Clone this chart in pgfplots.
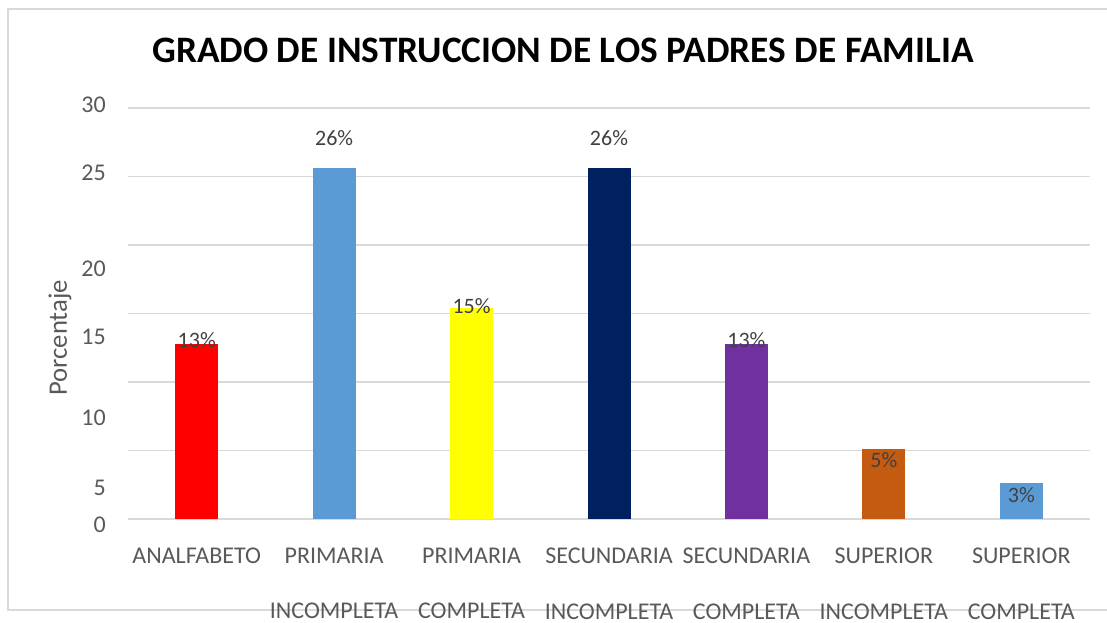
\documentclass[border=0pt]{standalone}
\usepackage{pgfplots}
\pgfplotsset{compat=1.18}
\usepackage{fontspec}
\setmainfont{Carlito}
\definecolor{txt}{HTML}{595959}
\definecolor{lbl}{HTML}{404040}
\definecolor{grd}{HTML}{D9D9D9}
\definecolor{cRed}{HTML}{FF0000}
\definecolor{cBlue}{HTML}{5B9BD5}
\definecolor{cYel}{HTML}{FFFF00}
\definecolor{cNavy}{HTML}{002060}
\definecolor{cPurp}{HTML}{7030A0}
\definecolor{cOra}{HTML}{C55A11}
\begin{document}
\begin{tikzpicture}[x=0.75pt,y=0.75pt]
\useasboundingbox (0,0) rectangle (1107,623);
\draw[grd, line width=1.2pt] (1107,614) -- (8,614) -- (8,13) -- (1107,13);
\node[font=\bfseries\fontsize{28}{32}\selectfont, text=black] at (563,573) {GRADO DE INSTRUCCION DE LOS PADRES DE FAMILIA};
\node[font=\fontsize{20}{24}\selectfont, text=txt, rotate=90] at (60,285) {Porcentaje};
\begin{axis}[
  at={(96pt,72.86pt)}, anchor=south west,
  scale only axis, width=721.5pt, height=318.5pt,
  xmin=-0.5, xmax=6.5, ymin=-0.5, ymax=30.5,
  axis line style={draw=none},
  xtick={0,1,2,3,4,5,6},
  xticklabels={ANALFABETO, PRIMARIA\\[20.5pt]INCOMPLETA, PRIMARIA\\[20.5pt]COMPLETA, SECUNDARIA\\[20.5pt]INCOMPLETA, SECUNDARIA\\[20.5pt]COMPLETA, SUPERIOR\\[20.5pt]INCOMPLETA, SUPERIOR\\[20.5pt]COMPLETA},
  xticklabel style={align=center, anchor=north, inner sep=0pt, yshift=-16.6pt, font=\fontsize{18}{21}\selectfont, text=txt},
  ytick={-0.44,2.3,7.4,13.3,18.3,25.3,30.2},
  yticklabels={0,5,10,15,20,25,30},
  yticklabel style={anchor=east, inner sep=0pt, xshift=-16.5pt, font=\fontsize{18}{21}\selectfont, text=txt},
  major tick length=0pt,
  extra y ticks={0,5,10,15,20,25,30},
  extra y tick labels={},
  extra y tick style={grid=major, major grid style={grd, line width=1.2pt}},
  /pgf/number format/assume math mode=true,
  clip=false,
]
\addplot[ybar, bar width=32.25pt, bar shift=0pt, fill=cRed, draw=none] coordinates {(0,12.8)};
\addplot[ybar, bar width=32.25pt, bar shift=0pt, fill=cBlue, draw=none] coordinates {(1,25.6)};
\addplot[ybar, bar width=32.25pt, bar shift=0pt, fill=cYel, draw=none] coordinates {(2,15.4)};
\addplot[ybar, bar width=32.25pt, bar shift=0pt, fill=cNavy, draw=none] coordinates {(3,25.6)};
\addplot[ybar, bar width=32.25pt, bar shift=0pt, fill=cPurp, draw=none] coordinates {(4,12.8)};
\addplot[ybar, bar width=32.25pt, bar shift=0pt, fill=cOra, draw=none] coordinates {(5,5.1)};
\addplot[ybar, bar width=32.25pt, bar shift=0pt, fill=cBlue, draw=none] coordinates {(6,2.6)};
\addplot[draw=none, mark=none, nodes near coords, point meta=explicit symbolic,
  nodes near coords style={anchor=center, inner sep=0pt, font=\fontsize{16.5}{19}\selectfont, text=lbl}]
  table[meta=lab] {
x y lab
0 13.07 13\%
1 27.8 26\%
2 15.55 15\%
3 27.8 26\%
4 13.07 13\%
5 4.3 5\%
6 1.75 3\%
};
\end{axis}
\end{tikzpicture}
\end{document}
